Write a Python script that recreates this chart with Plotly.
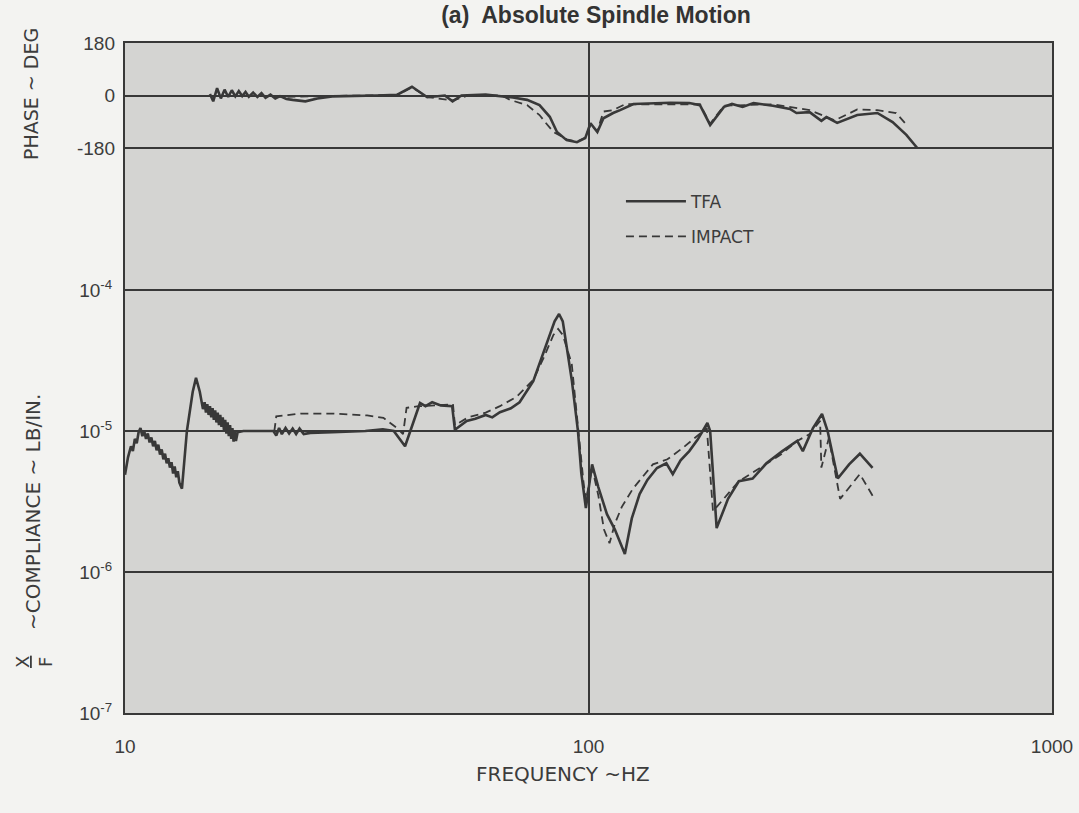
import plotly.graph_objects as go

# ---------------- data ----------------
tfa_mag_f = [10.0, 10.15, 10.3, 10.4, 10.5, 10.6, 10.7, 10.8, 10.9, 11.0, 11.1, 11.2, 11.3, 11.4,
             11.5, 11.6, 11.7, 11.8, 11.9, 12.0, 12.1, 12.2, 12.3, 12.4, 12.5, 12.6, 12.7, 12.8,
             12.9, 13.0, 13.1, 13.27, 13.6, 14.0, 14.23, 14.5, 14.73, 14.85, 14.95, 15.05, 15.15,
             15.25, 15.35, 15.45, 15.55, 15.65, 15.75, 15.85, 15.95, 16.05, 16.15, 16.25, 16.35,
             16.45, 16.55, 16.65, 16.75, 16.85, 16.95, 17.05, 17.15, 17.25, 17.35, 17.5, 18.0,
             19.0, 20.0, 20.9, 21.2, 21.5, 21.8, 22.2, 22.6, 23.0, 23.4, 23.8, 24.3, 25.1, 28.0,
             33.0, 36.0, 38.0, 40.2, 41.5, 43.3, 44.5, 46.0, 48.0, 50.8, 51.5, 54.6, 57.0, 60.0,
             62.0, 64.4, 68.0, 71.0, 76.0, 81.8, 84.5, 86.4, 88.0, 92.1, 94.9, 96.5, 98.7, 101.8,
             105.0, 109.6, 114.0, 119.8, 124.0, 128.9, 134.0, 140.5, 147.2, 152.0, 158.0, 165.0,
             172.0, 180.5, 183.0, 189.0, 200.0, 211.0, 226.0, 242.0, 262.0, 282.0, 290.0, 305.0,
             319.0, 328.0, 345.0, 365.0, 385.0, 410.0]
tfa_mag_v = [4.9e-6, 6.5e-6, 7.8e-6, 7.2e-6, 8.8e-6, 8.2e-6, 9.8e-6, 1.05e-5, 9.2e-6, 1.0e-5,
             8.8e-6, 9.6e-6, 8.3e-6, 9.0e-6, 7.8e-6, 8.5e-6, 7.3e-6, 8.0e-6, 6.8e-6, 7.4e-6,
             6.3e-6, 6.9e-6, 5.9e-6, 6.4e-6, 5.5e-6, 6.0e-6, 5.0e-6, 5.6e-6, 4.7e-6, 5.2e-6,
             4.3e-6, 3.9e-6, 1.0e-5, 1.9e-5, 2.38e-5, 1.9e-5, 1.43e-5, 1.6e-5, 1.35e-5, 1.55e-5,
             1.3e-5, 1.5e-5, 1.25e-5, 1.45e-5, 1.2e-5, 1.4e-5, 1.15e-5, 1.35e-5, 1.1e-5, 1.3e-5,
             1.07e-5, 1.25e-5, 1.02e-5, 1.2e-5, 9.6e-6, 1.15e-5, 9.2e-6, 1.1e-5, 8.8e-6, 1.05e-5,
             8.4e-6, 1.0e-5, 8.5e-6, 9.8e-6, 1.0e-5, 1.0e-5, 1.0e-5, 1.0e-5, 9.3e-6, 1.05e-5,
             9.5e-6, 1.05e-5, 9.6e-6, 1.04e-5, 9.5e-6, 1.04e-5, 9.5e-6, 9.7e-6, 9.8e-6, 1.0e-5,
             1.03e-5, 1.0e-5, 7.8e-6, 1.05e-5, 1.58e-5, 1.5e-5, 1.6e-5, 1.52e-5, 1.5e-5, 1.02e-5,
             1.18e-5, 1.22e-5, 1.3e-5, 1.25e-5, 1.36e-5, 1.45e-5, 1.6e-5, 2.26e-5, 4.4e-5, 6.0e-5,
             6.76e-5, 6.0e-5, 2.26e-5, 1.0e-5, 5.0e-6, 2.84e-6, 5.8e-6, 4.0e-6, 2.57e-6, 2.0e-6,
             1.34e-6, 2.4e-6, 3.57e-6, 4.5e-6, 5.47e-6, 5.9e-6, 4.95e-6, 6.2e-6, 7.2e-6, 8.7e-6,
             1.14e-5, 1.0e-5, 2.05e-6, 3.3e-6, 4.4e-6, 4.6e-6, 5.9e-6, 7.2e-6, 8.5e-6, 7.2e-6,
             1.05e-5, 1.32e-5, 1.0e-5, 4.6e-6, 5.8e-6, 6.9e-6, 5.47e-6]

imp_mag_f = [21.0, 21.2, 24.0, 28.0, 33.3, 36.1, 38.6, 39.8, 40.5, 43.0, 47.0, 51.0, 51.5, 55.0,
             60.0, 64.4, 70.0, 76.0, 80.0, 84.0, 86.0, 88.0, 92.0, 95.0, 97.5, 98.7, 101.8, 105.0,
             108.0, 111.0, 114.0, 118.0, 124.7, 137.7, 148.0, 159.8, 170.0, 180.0, 185.6, 200.0,
             211.0, 235.0, 260.0, 282.0, 300.0, 316.0, 318.0, 330.0, 349.0, 385.0, 414.0]
imp_mag_v = [1.0e-5, 1.27e-5, 1.33e-5, 1.33e-5, 1.29e-5, 1.24e-5, 1.05e-5, 9.5e-6, 1.46e-5,
             1.5e-5, 1.52e-5, 1.55e-5, 1.1e-5, 1.25e-5, 1.35e-5, 1.5e-5, 1.75e-5, 2.3e-5, 3.3e-5,
             4.8e-5, 5.3e-5, 4.8e-5, 3.0e-5, 1.0e-5, 4.4e-6, 3.2e-6, 5.5e-6, 3.5e-6, 2.0e-6,
             1.6e-6, 2.2e-6, 2.9e-6, 3.9e-6, 5.8e-6, 6.3e-6, 7.6e-6, 9.0e-6, 1.05e-5, 2.7e-6,
             3.6e-6, 4.4e-6, 5.5e-6, 6.8e-6, 8.5e-6, 9.5e-6, 1.18e-5, 5.5e-6, 8.9e-6, 3.3e-6,
             4.95e-6, 3.3e-6]

tfa_ph_f = [15.25, 15.5, 15.8, 16.1, 16.4, 16.7, 17.0, 17.3, 17.6, 17.9, 18.2, 18.5, 18.9, 19.3,
            19.7, 20.1, 20.6, 21.1, 21.6, 22.3, 23.0, 24.5, 26.0, 28.0, 35.0, 38.6, 41.6, 44.9,
            49.0, 50.9, 53.2, 60.0, 68.7, 73.7, 78.4, 82.5, 85.5, 89.7, 94.4, 98.4, 101.0, 104.5,
            107.7, 113.0, 117.0, 125.0, 150.0, 165.0, 174.0, 183.0, 196.0, 204.0, 215.0, 227.0,
            250.0, 272.0, 281.0, 300.0, 318.0, 326.0, 344.0, 380.0, 420.0, 453.0, 485.0, 512.0]
tfa_ph_v = [5, -20, 25, -10, 20, -5, 18, -3, 15, -2, 12, -4, 10, -5, 8, -8, 3, -10, -2, -12,
            -15, -20, -10, -3, 0, 2, 30, -6, 0, -20, 0, 3, -7, -15, -33, -73, -125, -153, -160,
            -146, -95, -125, -78, -60, -50, -29, -25, -26, -33, -101, -39, -29, -39, -26, -35,
            -46, -60, -57, -87, -74, -94, -67, -60, -91, -135, -180]

imp_ph_f = [21.0, 30.0, 38.6, 41.6, 44.9, 50.9, 55.0, 65.0, 67.7, 73.7, 78.4, 81.0, 84.0, 89.7,
            94.4, 98.4, 101.0, 104.5, 107.7, 113.0, 120.0, 174.0, 183.0, 196.0, 250.0, 300.0,
            340.0, 380.0, 420.0, 461.0, 485.0]
imp_ph_v = [-5, 0, 2, 28, -5, -17, 0, 0, -15, -33, -67, -95, -125, -150, -158, -144, -100,
            -122, -55, -50, -30, -30, -97, -35, -30, -50, -85, -48, -50, -60, -100]

x_tickvals = [10, 100, 1000]
x_ticktext = ["10", "100", "1000"]
mag_tickvals = [1e-7, 1e-6, 1e-5, 1e-4]
mag_ticktext = ["10<sup>-7</sup>", "10<sup>-6</sup>", "10<sup>-5</sup>", "10<sup>-4</sup>"]
ph_tickvals = [180, 0, -180]
ph_ticktext = ["180", "0", "-180"]

# ---------------- styling ----------------
INK = "#383838"
TXT = "#3c3c3c"
FONT = "Liberation Sans, Arial, sans-serif"
WIDE = "DejaVu Sans, Liberation Sans, sans-serif"

fig = go.Figure()
fig.add_trace(go.Scatter(x=tfa_mag_f, y=tfa_mag_v, mode="lines", name="TFA",
                         legendgroup="tfa", line=dict(color=INK, width=2.6), yaxis="y"))
fig.add_trace(go.Scatter(x=imp_mag_f, y=imp_mag_v, mode="lines", name="IMPACT",
                         legendgroup="imp", line=dict(color=INK, width=1.8, dash="8px,5px"),
                         yaxis="y"))
fig.add_trace(go.Scatter(x=tfa_ph_f, y=tfa_ph_v, mode="lines", name="TFA", showlegend=False,
                         legendgroup="tfa", line=dict(color=INK, width=2.6), yaxis="y2"))
fig.add_trace(go.Scatter(x=imp_ph_f, y=imp_ph_v, mode="lines", name="IMPACT", showlegend=False,
                         legendgroup="imp", line=dict(color=INK, width=1.8, dash="8px,5px"),
                         yaxis="y2"))

fig.update_layout(
    width=1079, height=813,
    margin=dict(l=125, r=27, t=43, b=100, autoexpand=False),
    paper_bgcolor="#f3f3f1",
    plot_bgcolor="#d4d4d2",
    font=dict(family=FONT, size=17, color=TXT),
    title=dict(text="<b>(a)  Absolute Spindle Motion</b>", x=596 / 1079, xanchor="center",
               y=1 - 15 / 813, yanchor="middle", yref="container", automargin=False,
               font=dict(family=FONT, size=23, color="#333333")),
    showlegend=True,
    legend=dict(x=0.535, y=0.79, xanchor="left", yanchor="top", bgcolor="rgba(0,0,0,0)",
                traceorder="grouped", tracegroupgap=10, itemwidth=60,
                font=dict(family=WIDE, size=17, color=TXT)),
    xaxis=dict(type="log", range=[1, 3], tickvals=x_tickvals, ticktext=x_ticktext,
               showgrid=True, gridcolor=INK, gridwidth=2, showline=True, linecolor=INK,
               linewidth=2, mirror=True, ticks="", ticklabelstandoff=15, zeroline=False,
               automargin=False, tickfont=dict(size=19, color=TXT)),
    yaxis=dict(type="log", range=[-7, -2.248], tickvals=mag_tickvals, ticktext=mag_ticktext,
               showgrid=True, gridcolor=INK, gridwidth=2, showline=True, linecolor=INK,
               linewidth=2, mirror=True, ticks="", ticklabelstandoff=7, zeroline=False,
               automargin=False, tickfont=dict(size=19, color=TXT)),
    yaxis2=dict(overlaying="y", side="left", range=[-2117, 180], tickvals=ph_tickvals,
                ticktext=ph_ticktext, showgrid=True, gridcolor=INK, gridwidth=2,
                showline=False, ticks="", ticklabelstandoff=9, zeroline=False,
                automargin=False, tickfont=dict(size=19, color=TXT)),
    annotations=[
        dict(text="PHASE ~ DEG", xref="paper", yref="paper", x=(31 - 125) / 927,
             y=(713 - 94) / 670, xanchor="center", yanchor="middle", textangle=-90,
             showarrow=False, font=dict(family=WIDE, size=19, color=TXT)),
        dict(text="~COMPLIANCE ~ LB/IN.", xref="paper", yref="paper", x=(33 - 125) / 927,
             y=(713 - 512) / 670, xanchor="center", yanchor="middle", textangle=-90,
             showarrow=False, font=dict(family=WIDE, size=20, color=TXT)),
        dict(text="<u>X</u><br>F", xref="paper", yref="paper", x=(34 - 125) / 927,
             y=(713 - 662) / 670, xanchor="center", yanchor="middle", textangle=-90,
             showarrow=False, font=dict(family=WIDE, size=18, color=TXT)),
        dict(text="FREQUENCY ~HZ", xref="paper", yref="paper", x=(563 - 125) / 927,
             y=(713 - 774) / 670, xanchor="center", yanchor="middle",
             showarrow=False, font=dict(family=WIDE, size=20, color=TXT)),
    ],
)

fig.write_html("out.html")
